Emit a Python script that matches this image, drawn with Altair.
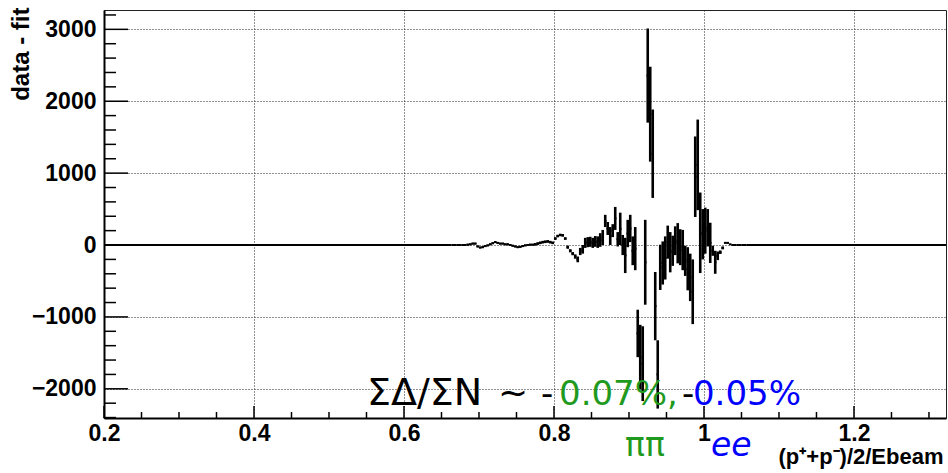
import altair as alt
import pandas as pd

# ---------------- data ----------------
X_DOMAIN = [0.2, 1.3227]
Y_DOMAIN = [-2406, 3269]

BIN_WIDTH = 1 / 300
ACTIVE_START = 0.66

residual = [
    0, 0, 0, 0, 0, 0, 0, 5, 10, 20,
    20, -20, -35, -30, -15, -5, 10, 25, 40, 30,
    20, 20, 10, 10, 0, -10, -20, -30, -25, -15,
    -5, 0, 5, 5, 10, 20, 30, 40, 45, 50,
    40, 30, 90, 125, 140, 135, 90, -30, -80, -120,
    -160, -200, -90, -60, 30, 40, 45, 30, 50, 40,
    70, 105, 335, 230, 125, 200, 370, 80, 225, 0,
    -145, 160, 230, -80, -50, -1230, -1560, -1650, -240, 2357,
    1820, 1270, -850, -1800, -310, -250, -180, 40, -100, -80,
    60, 25, -30, -70, -220, -330, -450, -650, 950, 1115,
    170, 150, 200, 240, 30, -80, -240, -150, -100, -40,
    30, 30, 10, 0, 0, 0, 0, 0, 0, 0,
]
error = [
    3, 3, 3, 3, 3, 3, 3, 12, 12, 12,
    12, 12, 12, 12, 12, 12, 12, 12, 12, 12,
    12, 12, 12, 12, 12, 12, 12, 12, 12, 12,
    12, 12, 12, 12, 18, 18, 18, 18, 18, 18,
    18, 18, 18, 18, 18, 18, 18, 22, 22, 22,
    30, 40, 50, 60, 70, 70, 70, 70, 75, 80,
    95, 105, 85, 90, 125, 90, 160, 100, 225, 140,
    245, 190, 190, 200, 300, 330, 450, 520, 590, 655,
    660, 615, 475, 475, 315, 300, 300, 230, 280, 210,
    200, 280, 250, 280, 210, 300, 330, 450, 560, 630,
    560, 350, 320, 260, 280, 70, 160, 60, 25, 20,
    10, 10, 5, 3, 3, 3, 3, 3, 3, 3,
]
quiet_lo = [0.2, 1.06]
quiet_hi = [0.66, 1.3227]

y_major = [-2000, -1000, 0, 1000, 2000, 3000]
y_minor = [-2400, -2200, -1800, -1600, -1400, -1200, -800, -600, -400, -200,
           200, 400, 600, 800, 1200, 1400, 1600, 1800, 2200, 2400, 2600, 2800, 3200]
x_major = [0.2, 0.4, 0.6, 0.8, 1.0, 1.2]
x_minor = [0.25, 0.3, 0.35, 0.45, 0.5, 0.55, 0.65, 0.7, 0.75, 0.85, 0.9, 0.95,
           1.05, 1.1, 1.15, 1.25, 1.3]

ann_text = ["ΣΔ/ΣN", "~", "-", "0.07%,", "-", "0.05%"]
ann_x = [0.5507, 0.7253, 0.7827, 0.8067, 0.9707, 0.9853]
ann_y = [-2225, -2225, -2225, -2225, -2225, -2225]
ann_color = ["black", "black", "black", "#1f9a1f", "black", "#0000ff"]
ann_size = [38, 36, 34, 34, 34, 34]

pipi_text = ["ππ"]
pipi_x = [0.8947]
ee_text = ["ee"]
ee_x = [1.0093]
sub_y = -2930
pipi_color = "#1f9a1f"
ee_color = "#0000ff"

# ---------------- tables ----------------
n = len(residual)
bins = pd.DataFrame({
    "xlo": [ACTIVE_START + i * BIN_WIDTH for i in range(n)],
    "val": residual,
    "err": error,
})
bins["xhi"] = bins["xlo"] + BIN_WIDTH
bins["xc"] = bins["xlo"] + BIN_WIDTH / 2
bins["lo"] = bins["val"] - bins["err"]
bins["hi"] = bins["val"] + bins["err"]

quiet = pd.DataFrame({"xlo": quiet_lo, "xhi": quiet_hi, "val": [0, 0]})
ymaj = pd.DataFrame({"v": y_major})
ymin = pd.DataFrame({"v": y_minor})
xmaj = pd.DataFrame({"v": x_major})
xmin = pd.DataFrame({"v": x_minor})
ann = pd.DataFrame({"x": ann_x, "y": ann_y, "t": ann_text, "c": ann_color, "s": ann_size})
pipi = pd.DataFrame({"x": pipi_x, "y": [sub_y], "t": pipi_text})
ee = pd.DataFrame({"x": ee_x, "y": [sub_y], "t": ee_text})

W, H = 842, 408
LABEL_FONT = "Liberation Sans"

X_AXIS = alt.Axis(
    values=x_major,
    labelExpr="datum.value == 1 ? '1' : format(datum.value, '.1f')",
    grid=True, gridDash=[1, 2], gridColor="#222", gridWidth=1,
    ticks=False, tickSize=0,
    domainColor="black", domainWidth=2,
    labelFont=LABEL_FONT, labelFontWeight="bold", labelFontSize=23,
    labelColor="black", labelPadding=4,
    labelOverlap=False, labelBound=False, labelFlush=False,
    title="(p⁺+p⁻)/2/Ebeam", titleFont=LABEL_FONT, titleFontWeight="bold",
    titleFontSize=22, titleColor="black",
    titleX=839, titleY=45, titleAlign="right", titleBaseline="alphabetic",
)
Y_AXIS = alt.Axis(
    values=y_major, format="d",
    grid=True, gridDash=[1, 2], gridColor="#222", gridWidth=1,
    ticks=False, tickSize=0,
    domainColor="black", domainWidth=2,
    labelFont=LABEL_FONT, labelFontWeight="bold", labelFontSize=23,
    labelColor="black", labelPadding=8,
    labelOverlap=False, labelBound=False, labelFlush=False,
    title="data - fit", titleFont=LABEL_FONT, titleFontWeight="bold",
    titleFontSize=24, titleColor="black",
    titleAngle=270, titleX=-83, titleY=-3, titleAlign="right", titleBaseline="middle",
)

xs = alt.Scale(domain=X_DOMAIN, nice=False, zero=False)
ys = alt.Scale(domain=Y_DOMAIN, nice=False, zero=False)


def X(f):
    return alt.X(f, type="quantitative", scale=xs, axis=X_AXIS)


def Y(f):
    return alt.Y(f, type="quantitative", scale=ys, axis=Y_AXIS)


quiet_layer = alt.Chart(quiet).mark_rule(color="black", strokeWidth=2).encode(
    x=X("xlo"), x2="xhi", y=Y("val"))
hseg = alt.Chart(bins).mark_rule(color="black", strokeWidth=2).encode(
    x=X("xlo"), x2="xhi", y=Y("val"))
vbar = alt.Chart(bins).mark_rule(color="black", strokeWidth=2.6).encode(
    x=X("xc"), y=Y("lo"), y2="hi")

ymaj_t = alt.Chart(ymaj).mark_rule(color="black", strokeWidth=1.5).encode(
    y=Y("v"), x=alt.value(0), x2=alt.value(24))
ymin_t = alt.Chart(ymin).mark_rule(color="black", strokeWidth=1.5).encode(
    y=Y("v"), x=alt.value(0), x2=alt.value(12))
xmaj_t = alt.Chart(xmaj).mark_rule(color="black", strokeWidth=1.5).encode(
    x=X("v"), y=alt.value(H), y2=alt.value(H - 12))
xmin_t = alt.Chart(xmin).mark_rule(color="black", strokeWidth=1.5).encode(
    x=X("v"), y=alt.value(H), y2=alt.value(H - 6))

ann_layer = alt.Chart(ann).mark_text(
    align="left", baseline="alphabetic", font="DejaVu Sans"
).encode(x=X("x"), y=Y("y"), text="t:N", color=alt.Color("c:N", scale=None),
         size=alt.Size("s:Q", scale=None))

pipi_layer = alt.Chart(pipi).mark_text(
    align="left", baseline="alphabetic", font="DejaVu Sans", fontSize=33,
    color=pipi_color
).encode(x=X("x"), y=Y("y"), text="t:N")
ee_layer = alt.Chart(ee).mark_text(
    align="left", baseline="alphabetic", font="DejaVu Sans", fontSize=33,
    fontStyle="italic", color=ee_color
).encode(x=X("x"), y=Y("y"), text="t:N")

chart = alt.layer(
    quiet_layer, hseg, vbar, ymaj_t, ymin_t, xmaj_t, xmin_t,
    ann_layer, pipi_layer, ee_layer
).properties(
    width=W, height=H,
    autosize=alt.AutoSizeParams(type="none"),
    padding={"left": 104, "top": 10, "right": 2, "bottom": 55},
    background="white",
).configure_view(stroke="#222", strokeWidth=1)

chart.save("out.html", embed_options={"renderer": "svg", "actions": False})
